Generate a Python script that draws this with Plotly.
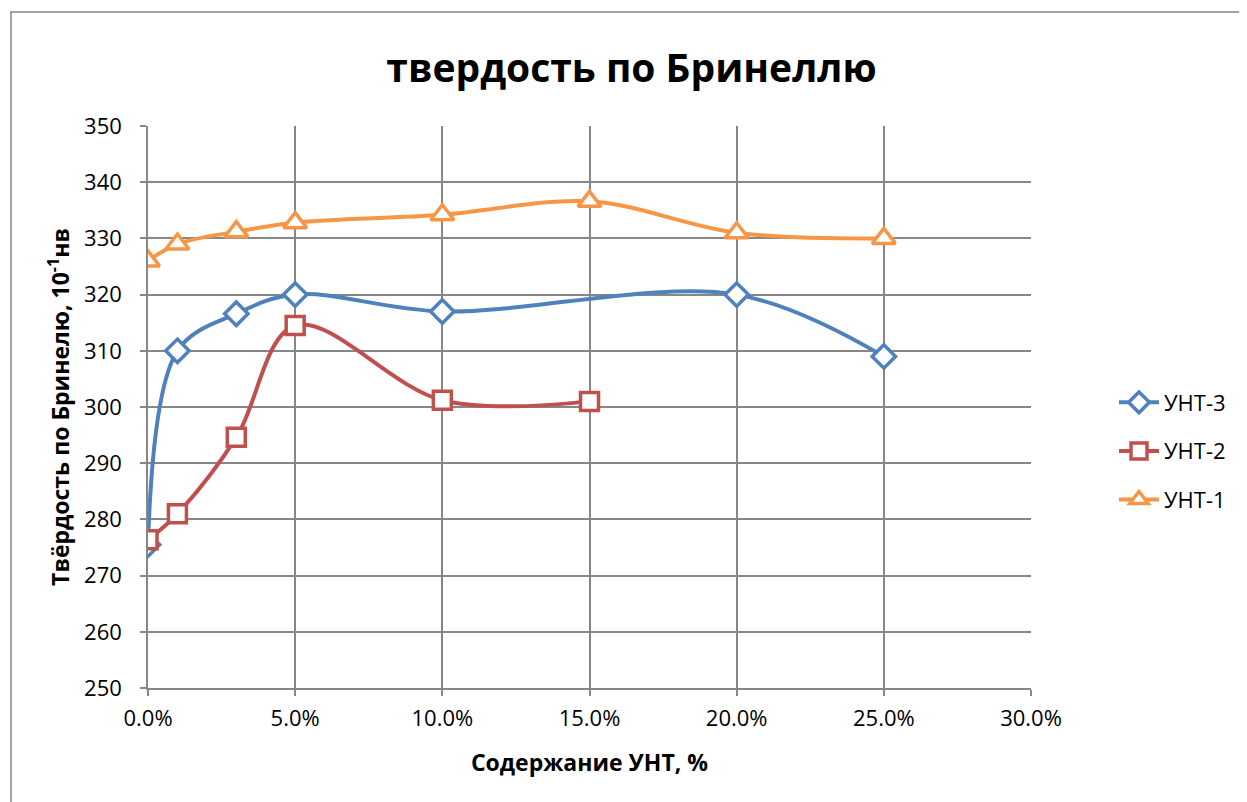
import plotly.graph_objects as go

x_unt3 = [0.00, 0.01, 0.03, 0.05, 0.10, 0.20, 0.25]
y_unt3 = [275.5, 310.0, 316.6, 320.0, 317.0, 320.0, 309.0]

x_unt2 = [0.00, 0.01, 0.03, 0.05, 0.10, 0.15]
y_unt2 = [276.4, 281.0, 294.6, 314.5, 301.2, 301.0]

x_unt1 = [0.00, 0.01, 0.03, 0.05, 0.10, 0.15, 0.20, 0.25]
y_unt1 = [326.0, 329.0, 331.2, 332.8, 334.2, 336.6, 331.0, 330.0]

FONT = "Open Sans"
GRID = "#878787"

# plot-area geometry in figure pixels
L, T, PW, PH = 140, 118, 883, 562
W, H = 1247, 802

fig = go.Figure()
series = [
    ("УНТ-3", x_unt3, y_unt3, "#4F81BD", "diamond", 18),
    ("УНТ-2", x_unt2, y_unt2, "#C0504D", "square", 18),
    ("УНТ-1", x_unt1, y_unt1, "#F79646", "triangle-up", 20),
]
for name, xs, ys, col, sym, sz in series:
    fig.add_trace(go.Scatter(
        x=xs, y=ys, name=name, mode="lines+markers", legendgroup=name,
        line=dict(color=col, width=4, shape="spline", smoothing=1.0),
        marker=dict(symbol=sym, size=sz, color="white",
                    line=dict(color=col, width=3.5)),
    ))

fig.update_layout(
    width=W, height=H,
    margin=dict(l=L, r=W - L - PW, t=T, b=H - T - PH),
    paper_bgcolor="white", plot_bgcolor="white",
    title=dict(text="<b>твердость по Бринеллю</b>", x=0.5, xanchor="center",
               xref="container", y=1 - 60 / H, yanchor="middle",
               font=dict(family=FONT, size=39, color="black")),
    font=dict(family=FONT, color="black"),
    legend=dict(x=(1106 - L) / PW, xanchor="left",
                y=(T + PH - 443) / PH, yanchor="middle",
                font=dict(family=FONT, size=22, color="black"),
                tracegroupgap=17, itemwidth=40),
    showlegend=True,
)
fig.update_xaxes(
    range=[0, 0.30], dtick=0.05, tick0=0, tickformat=".1%",
    showgrid=True, gridcolor=GRID, gridwidth=1.5,
    showline=True, linecolor=GRID, linewidth=1.5,
    ticks="outside", ticklen=6, tickcolor=GRID, tickwidth=1.5,
    ticklabelstandoff=4,
    tickfont=dict(family=FONT, size=22, color="black"),
    title=dict(text="<b>Содержание УНТ, %</b>", standoff=24,
               font=dict(family=FONT, size=23, color="black")),
    zeroline=False,
)
fig.update_yaxes(
    range=[250, 350], dtick=10, tick0=250,
    showgrid=True, gridcolor=GRID, gridwidth=1.5,
    showline=True, linecolor=GRID, linewidth=1.5,
    ticks="outside", ticklen=6, tickcolor=GRID, tickwidth=1.5,
    ticklabelstandoff=14,
    tickfont=dict(family=FONT, size=22, color="black"),
    title=dict(text="<b>Твёрдость по Бринелю, 10<sup>-1</sup>нв</b>", standoff=8,
               font=dict(family=FONT, size=23, color="black")),
    zeroline=False,
)
# outer chart-area border
fig.add_shape(type="rect", xref="paper", yref="paper",
              x0=(3 - L) / PW, x1=(1400 - L) / PW,
              y0=(T + PH - 1000) / PH, y1=(T + PH - 4) / PH,
              line=dict(color=GRID, width=1.5), fillcolor="rgba(0,0,0,0)",
              layer="below")

fig.write_html("out.html")
